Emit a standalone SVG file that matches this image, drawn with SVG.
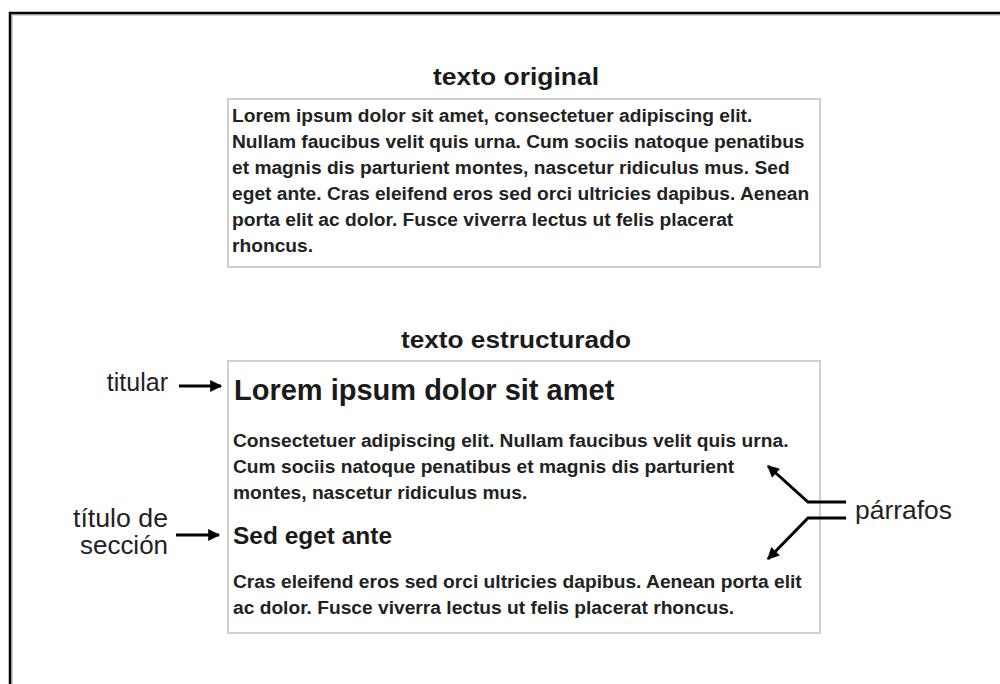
<svg xmlns="http://www.w3.org/2000/svg" width="1000" height="684" viewBox="0 0 1000 684">
<defs>
<style>
.t{font-family:"Liberation Sans",Arial,sans-serif;fill:#1a1a1a}
.h{font-size:24px;font-weight:bold;text-anchor:middle}
.b{font-size:19.2px;font-weight:bold;fill:#222}
.lbl{font-size:25px;font-weight:normal;fill:#222}
.box{fill:#fff;stroke:#cfcfcf;stroke-width:2}
.con{fill:none;stroke:#000;stroke-width:3}
</style>
<marker id="ah" viewBox="0 0 10 10" refX="9" refY="5" markerWidth="4.5" markerHeight="4" orient="auto" markerUnits="strokeWidth">
<path d="M0,0 L10,5 L0,10 z" fill="#000"/>
</marker>
</defs>
<rect width="1000" height="684" fill="#fff"/>
<g id="frame">
<path d="M11,684 V14 H1000" fill="none" stroke="#d0d0d0" stroke-width="2" transform="translate(1,1)"/>
<path d="M10,684 V13 H1000" fill="none" stroke="#000" stroke-width="2.5"/>
</g>
<g id="original">
<text class="t h" x="516" y="85" textLength="166" lengthAdjust="spacingAndGlyphs">texto original</text>
<rect class="box" x="228" y="99" width="592" height="168"/>
<text class="t b" x="232" y="122">Lorem ipsum dolor sit amet, consectetuer adipiscing elit.</text>
<text class="t b" x="232" y="148">Nullam faucibus velit quis urna. Cum sociis natoque penatibus</text>
<text class="t b" x="232" y="174">et magnis dis parturient montes, nascetur ridiculus mus. Sed</text>
<text class="t b" x="232" y="200">eget ante. Cras eleifend eros sed orci ultricies dapibus. Aenean</text>
<text class="t b" x="232" y="226">porta elit ac dolor. Fusce viverra lectus ut felis placerat</text>
<text class="t b" x="232" y="252">rhoncus.</text>
</g>
<g id="estructurado">
<text class="t h" x="516" y="348" textLength="230" lengthAdjust="spacingAndGlyphs">texto estructurado</text>
<rect class="box" x="228" y="361" width="592" height="272"/>
<text class="t" x="234" y="400" font-size="29" font-weight="bold">Lorem ipsum dolor sit amet</text>
<text class="t b" x="233" y="447">Consectetuer adipiscing elit. Nullam faucibus velit quis urna.</text>
<text class="t b" x="233" y="473">Cum sociis natoque penatibus et magnis dis parturient</text>
<text class="t b" x="233" y="499">montes, nascetur ridiculus mus.</text>
<text class="t" x="233" y="544" font-size="24" font-weight="bold" textLength="159" lengthAdjust="spacingAndGlyphs">Sed eget ante</text>
<text class="t b" x="233" y="588">Cras eleifend eros sed orci ultricies dapibus. Aenean porta elit</text>
<text class="t b" x="233" y="614">ac dolor. Fusce viverra lectus ut felis placerat rhoncus.</text>
</g>
<g id="label-titular">
<text class="t lbl" x="168" y="391" text-anchor="end">titular</text>
</g>
<g id="label-seccion">
<text class="t lbl" x="168" y="527" text-anchor="end" textLength="95" lengthAdjust="spacingAndGlyphs">título de</text>
<text class="t lbl" x="168" y="554" text-anchor="end" textLength="88" lengthAdjust="spacingAndGlyphs">sección</text>
</g>
<g id="label-parrafos">
<text class="t lbl" x="855" y="519" textLength="97" lengthAdjust="spacingAndGlyphs">párrafos</text>
</g>
<g id="connectors">
<path class="con" d="M179,386 H221" marker-end="url(#ah)"/>
<path class="con" d="M176,535 H219" marker-end="url(#ah)"/>
<path class="con" d="M846,502 H808 L768,466" marker-end="url(#ah)"/>
<path class="con" d="M846,518 H808 L768,559" marker-end="url(#ah)"/>
</g>
</svg>
